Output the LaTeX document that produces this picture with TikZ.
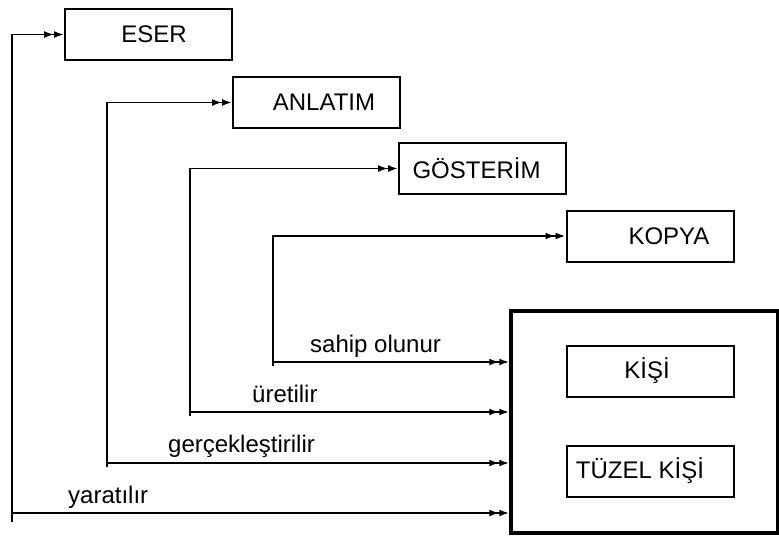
\documentclass[tikz,border=0pt]{standalone}
\usepackage{fontspec}
\setmainfont{Liberation Sans}
\usetikzlibrary{arrows.meta}

\tikzset{
    kutu/.style={draw, line width=2pt, minimum width=167pt, minimum height=51pt, inner sep=0pt, font=\fontsize{24}{28}\selectfont},
    ok/.style={line width=1.8pt, -{Latex[length=10pt,width=7pt]Latex[length=10pt,width=7pt]}},
    etiket/.style={font=\fontsize{24}{28}\selectfont, anchor=base west, inner sep=0pt}
}

\begin{document}
\begin{tikzpicture}[x=1pt, y=-1pt]
    \useasboundingbox (0,0) rectangle (779,536);

    %boxes
    \node[kutu] (eser) at (148.5,34.5) {\hspace*{11pt}ESER};
    \node[kutu] (anlatim) at (316.5,102.5) {\hspace*{15pt}ANLATIM};
    \node[kutu] (gosterim) at (482.5,168.5) {GÖSTERİM\hspace*{12pt}};
    \node[kutu] (kopya) at (650,236) {\hspace*{38pt}KOPYA};

    %person (thick)
    \node[draw, line width=3.5pt, minimum width=267pt, minimum height=222pt] (sahip) at (644.5,422) {};
    \node[kutu] (kisi) at (650,371) {KİŞİ\hspace*{6pt}};
    \node[kutu] (tuzel) at (650,471) {TÜZEL KİŞİ\hspace*{20pt}};

    %feet of the lines
    \coordinate (a1) at (12,522);
    \coordinate (a2) at (107,467);
    \coordinate (a3) at (190,416);
    \coordinate (a4) at (273,366);

    %upward branches
    \draw[ok] (a1) |- (eser.west);
    \draw[ok] (a2) |- (anlatim.west);
    \draw[ok] (a3) |- (gosterim.west);
    \draw[ok] (a4) |- (kopya.west);

    %into the thick box
    \coordinate (b1) at (12,513);
    \coordinate (b2) at (107,463);
    \coordinate (b3) at (190,412);
    \coordinate (b4) at (273,362);
    \draw[ok] (b1) -- (b1 -| sahip.west);
    \draw[ok] (b2) -- (b2 -| sahip.west);
    \draw[ok] (b3) -- (b3 -| sahip.west);
    \draw[ok] (b4) -- (b4 -| sahip.west);

    %labels
    \node[etiket] (l1) at (68,503) {yaratılır};
    \node[etiket] (l2) at (168,452) {gerçekleştirilir};
    \node[etiket] (l3) at (252,402) {üretilir};
    \node[etiket] (l4) at (310,352) {sahip olunur};

\end{tikzpicture}
\end{document}
